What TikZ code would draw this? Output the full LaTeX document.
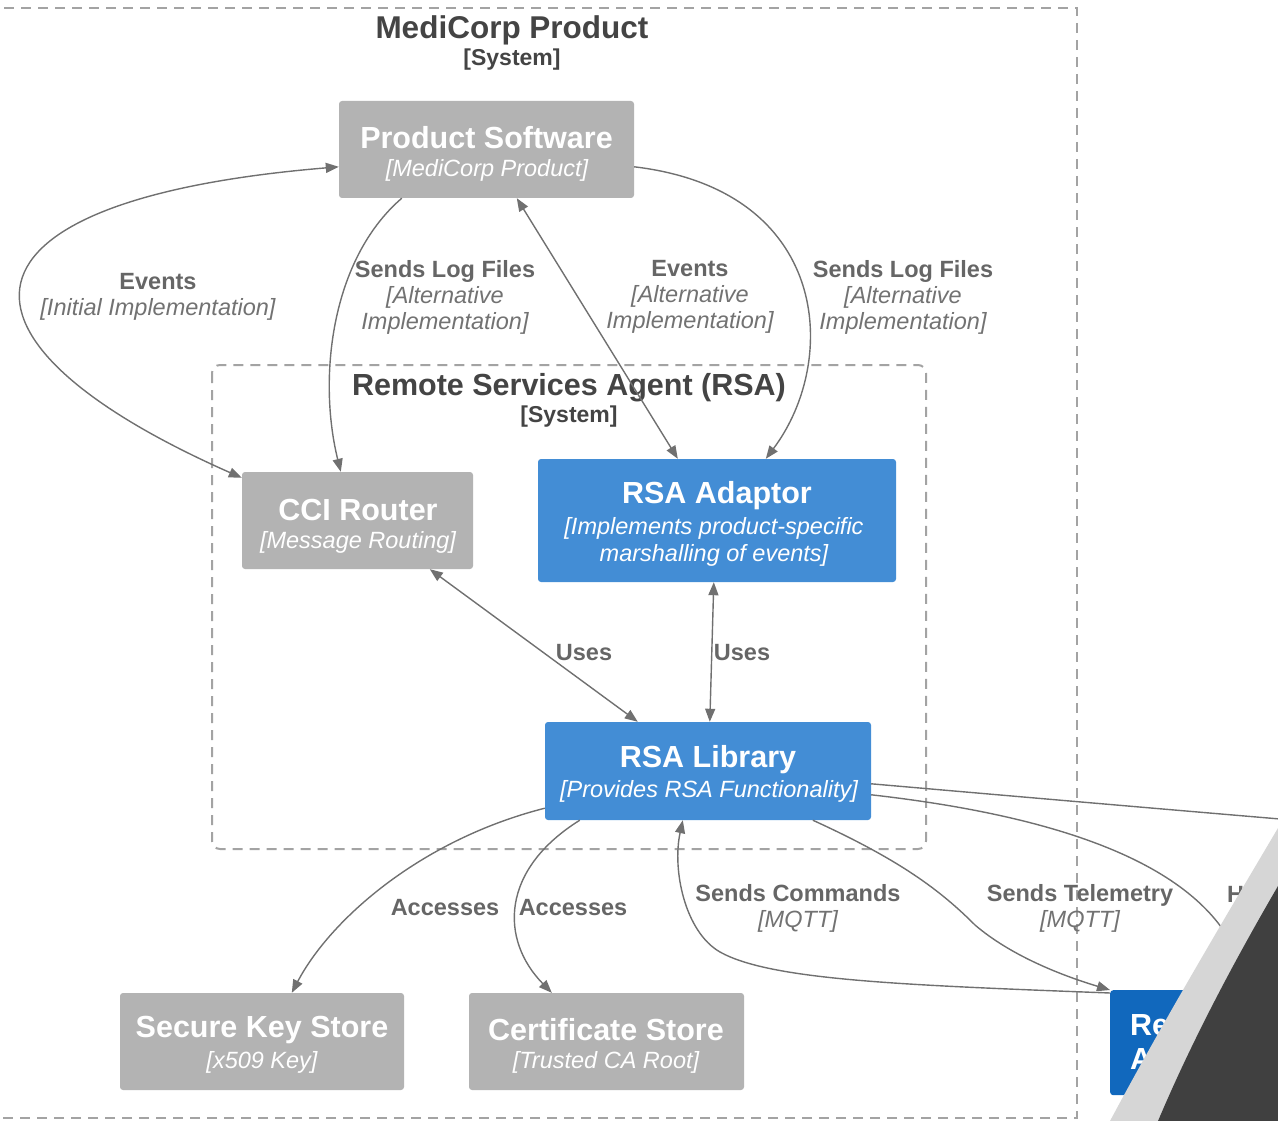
\documentclass[tikz,border=0pt]{standalone}
\usepackage{fontspec}
\setmainfont{Liberation Sans}
\usetikzlibrary{arrows.meta}
\definecolor{boxgray}{HTML}{B3B3B3}
\definecolor{boxblue}{HTML}{438DD5}
\definecolor{remblue}{HTML}{1168BD}
\definecolor{conngray}{HTML}{707070}
\definecolor{dashgray}{HTML}{A3A3A3}
\definecolor{titlegray}{HTML}{444444}
\definecolor{lblgray}{HTML}{666666}
\definecolor{techgray}{HTML}{727272}
\definecolor{curllight}{HTML}{D6D6D6}
\definecolor{curldark}{HTML}{404040}
\tikzset{
  gbox/.style={fill=boxgray, rounded corners=3pt, draw=none, inner sep=0pt},
  bbox/.style={fill=boxblue, rounded corners=3pt, draw=none, inner sep=0pt},
  rbox/.style={fill=remblue, rounded corners=3pt, draw=none, inner sep=0pt},
  ttl/.style={font=\fontsize{30.5}{34}\selectfont\bfseries, text=white, inner sep=0pt},
  sub/.style={font=\fontsize{23.5}{27}\selectfont\itshape, text=white, align=center, inner sep=0pt},
  lbl/.style={font=\fontsize{23.5}{26}\selectfont, text=lblgray, align=center, inner sep=0pt},
  btitle/.style={font=\fontsize{31.5}{34}\selectfont\bfseries, text=titlegray, inner sep=0pt},
  bsys/.style={font=\fontsize{23}{25}\selectfont\bfseries, text=titlegray, inner sep=0pt},
  boundary/.style={draw=dashgray, line width=2pt, dash pattern=on 10pt off 7pt},
  conn/.style={draw=conngray, line width=1.4pt, -{Triangle[length=13pt,width=10pt]}},
  conn2/.style={draw=conngray, line width=1.4pt, {Triangle[length=13pt,width=10pt]}-{Triangle[length=13pt,width=10pt]}},
  plain/.style={draw=conngray, line width=1.4pt},
}
\newcommand{\lb}[1]{\textbf{#1}}
\newcommand{\tc}[1]{{\color{techgray}\itshape #1}}
\begin{document}
\begin{tikzpicture}[x=1pt,y=-1pt]
\useasboundingbox (0,0) rectangle (1278,1121);
\clip (0,0) rectangle (1278,1121);

% boundaries
\draw[boundary] (-30,8) -- (1077,8) -- (1077,1118) -- (-30,1118);
\draw[boundary, rounded corners=8pt] (212,365) rectangle (926,849);
\node[btitle] (t1) at (512,30) {MediCorp Product};
\node[bsys] (s1) at (512,60) {[System]};
\node[btitle, font=\fontsize{30.5}{34}\selectfont\bfseries] (t2) at (569,388) {Remote Services Agent (RSA)};
\node[bsys] (s2) at (569,417) {[System]};

% boxes
\node[gbox, minimum width=295pt, minimum height=97pt] (ps) at (486.5,149.5) {};
\node[ttl] at (486.5,138) {Product Software};
\node[sub] at (487,170) {[MediCorp Product]};

\node[gbox, minimum width=231pt, minimum height=97pt] (cci) at (357.5,520.5) {};
\node[ttl] at (358,510) {CCI Router};
\node[sub] at (358,542) {[Message Routing]};

\node[bbox, minimum width=358pt, minimum height=123pt] (ada) at (717,520.5) {};
\node[ttl] at (717,496) {RSA Adaptor};
\node[sub] at (714,542) {[Implements product-specific\\marshalling of events]};

\node[bbox, minimum width=326pt, minimum height=98pt] (lib) at (708,771) {};
\node[ttl] at (708,760) {RSA Library};
\node[sub] at (709,791) {[Provides RSA Functionality]};

\node[gbox, minimum width=284pt, minimum height=97pt] (sks) at (262,1041.5) {};
\node[ttl] at (262,1030) {Secure Key Store};
\node[sub] at (262,1062) {[x509 Key]};

\node[gbox, minimum width=275pt, minimum height=97pt] (cs) at (606.5,1041.5) {};
\node[ttl] at (606,1030) {Certificate Store};
\node[sub] at (606,1062) {[Trusted CA Root]};

\node[rbox, minimum width=220pt, minimum height=105pt, anchor=north west] (rem) at (1110,990) {};
\node[ttl, anchor=west] at (1130,1025) {Re};
\node[ttl, anchor=west] at (1130,1059) {A};

% connectors
\coordinate (offA) at (1280,819);
\coordinate (offB) at (1234,948);
\draw[conn2] ([yshift=-6pt]cci.north west) .. controls (-70,340) and (-60,200) .. ([yshift=-66pt]ps.north west);
\draw[conn] ([xshift=63pt]ps.south west) .. controls (330,260) and (318,380) .. ([xshift=99pt]cci.north west);
\draw[conn2] ([xshift=178pt]ps.south west) -- ([xshift=140pt]ada.north west);
\draw[conn] ([yshift=-66pt]ps.north east) .. controls (830,190) and (840,360) .. ([xshift=228pt]ada.north west);
\draw[conn2] ([xshift=188pt]cci.south west) -- ([xshift=93pt]lib.north west);
\draw[conn2] ([xshift=176pt]ada.south west) -- ([xshift=165pt]lib.north west);
\draw[conn] ([yshift=12pt]lib.south west) .. controls (420,840) and (330,920) .. ([xshift=172pt]sks.north west);
\draw[conn] ([xshift=35pt]lib.south west) .. controls (500,870) and (500,940) .. ([xshift=83pt]cs.north west);
\draw[conn] ([yshift=-3pt]rem.north west) .. controls (900,985) and (770,980) .. (720,952) .. controls (685,932) and (672,870) .. ([xshift=138pt]lib.south west);
\draw[conn] ([xshift=268pt]lib.south west) .. controls (900,860) and (940,890) .. (975,925) .. controls (1010,955) and (1060,975) .. (rem.north west);
\draw[plain] ([yshift=-62pt]lib.north east) .. controls (1000,795) and (1150,808) .. (offA);
\draw[plain] ([yshift=-73pt]lib.north east) .. controls (1050,815) and (1190,860) .. (offB);

% connector labels
\node[lbl] (l1) at (158,297) {\lb{Events}\\\tc{[Initial Implementation]}};
\node[lbl] (l2) at (445,297) {\lb{Sends Log Files}\\\tc{[Alternative}\\\tc{Implementation]}};
\node[lbl] (l3) at (690,297) {\lb{Events}\\\tc{[Alternative}\\\tc{Implementation]}};
\node[lbl] (l4) at (903,297) {\lb{Sends Log Files}\\\tc{[Alternative}\\\tc{Implementation]}};
\node[lbl] (l5) at (584,653) {\lb{Uses}};
\node[lbl] (l6) at (742,653) {\lb{Uses}};
\node[lbl] (l7) at (445,908) {\lb{Accesses}};
\node[lbl] (l8) at (573,908) {\lb{Accesses}};
\node[lbl] (l9) at (798,908) {\lb{Sends Commands}\\\tc{[MQTT]}};
\node[lbl] (l10) at (1080,908) {\lb{Sends Telemetry}\\\tc{[MQTT]}};
\node[lbl, anchor=west] (l11) at (1227,895) {\lb{Ha}};

% page curl
\fill[curllight] (1278,828) .. controls (1220,926) and (1163,1022) .. (1110,1121) -- (1278,1121) -- cycle;
\fill[curldark] (1278,886) .. controls (1232,965) and (1191,1043) .. (1158,1121) -- (1278,1121) -- cycle;
\end{tikzpicture}
\end{document}
